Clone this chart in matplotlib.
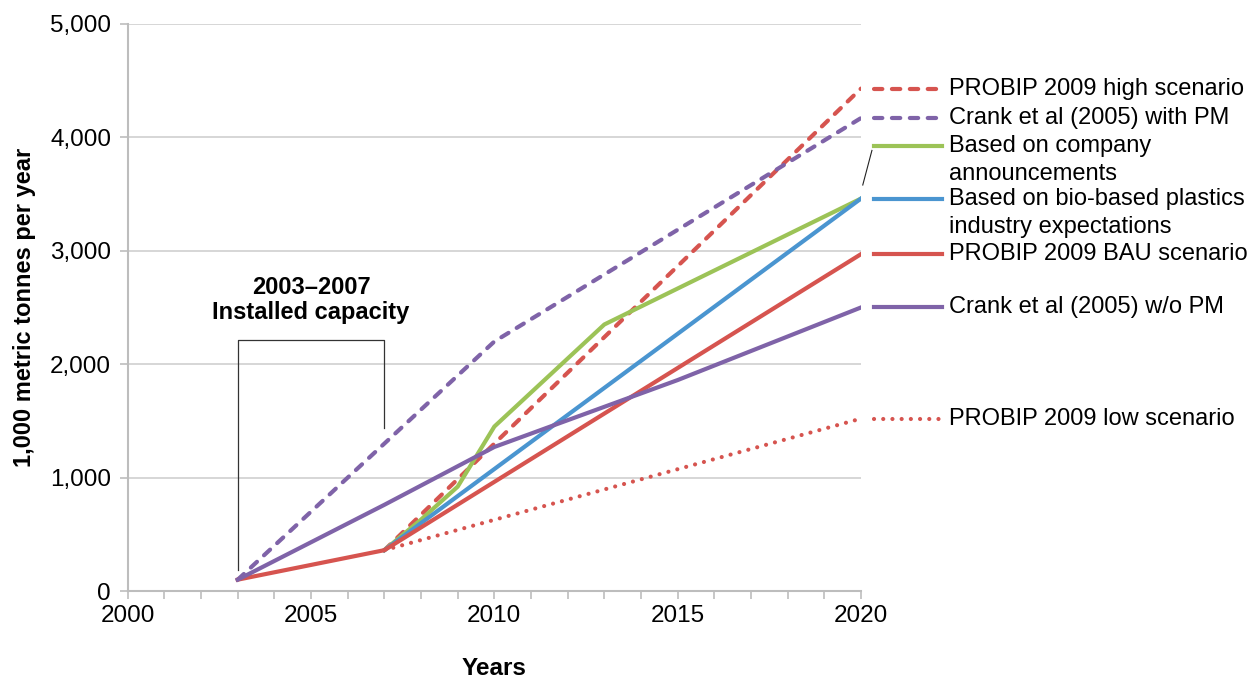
import matplotlib.pyplot as plt

plt.rcParams['font.family'] = ['Liberation Sans', 'DejaVu Sans']

# data (1,000 t per year)
high_years = [2003, 2007, 2020]
high_vals = [100, 360, 4430]
crank_pm_years = [2003, 2010, 2020]
crank_pm_vals = [100, 2200, 4170]
company_years = [2007, 2008, 2009, 2010, 2013, 2020]
company_vals = [360, 630, 920, 1450, 2350, 3460]
industry_years = [2007, 2020]
industry_vals = [360, 3460]
bau_years = [2003, 2007, 2020]
bau_vals = [100, 360, 2970]
crank_years = [2003, 2007, 2010, 2015, 2020]
crank_vals = [100, 760, 1270, 1860, 2500]
low_years = [2007, 2020]
low_vals = [360, 1520]

labels = ['PROBIP 2009 high scenario', 'Crank et al (2005) with PM',
          'Based on company\nannouncements',
          'Based on bio-based plastics\nindustry expectations',
          'PROBIP 2009 BAU scenario', 'Crank et al (2005) w/o PM',
          'PROBIP 2009 low scenario']

RED = '#d6544f'
PURPLE = '#7f63a8'
GREEN = '#9cc357'
BLUE = '#4a95d0'

fig = plt.figure(figsize=(12.55, 6.79), dpi=100)
ax = fig.add_axes([0.1018, 0.1296, 0.5842, 0.8351])

lw = 3
fs = 17
dash = dict(linestyle=(0, (2.0, 2.3)), dash_capstyle='round')
dot = dict(linestyle=(0, (0.01, 2.2)), dash_capstyle='round')

series = [
    (high_years, high_vals, RED, dash),
    (crank_pm_years, crank_pm_vals, PURPLE, dash),
    (company_years, company_vals, GREEN, {}),
    (industry_years, industry_vals, BLUE, {}),
    (bau_years, bau_vals, RED, {}),
    (crank_years, crank_vals, PURPLE, {}),
    (low_years, low_vals, RED, dot),
]

# the high scenario shares the solid 2003-2007 part with BAU
for i, (xs, ys, c, st) in enumerate(series):
    if i == 0:
        ax.plot(xs[1:], ys[1:], color=c, lw=lw, **st, zorder=3)
    else:
        ax.plot(xs, ys, color=c, lw=lw, **st, zorder=3)

# inline legend at the right end of each line
line_step = 247  # one text line in data units
for i, (xs, ys, c, st) in enumerate(series):
    ly = ys[-1]
    if i == 2:
        ly = 3925
        ax.plot([2020.05, 2020.3], [ys[-1] + 120, ly - 40], color='#222222',
                lw=0.8, clip_on=False)
    ax.plot([2020.35, 2022.2], [ly, ly], color=c, lw=lw, **st, clip_on=False)
    for k, part in enumerate(labels[i].split('\n')):
        ax.text(2022.4, ly - k * line_step, part, fontsize=fs, va='center',
                ha='left', clip_on=False)

# installed capacity bracket
ax.plot([2003, 2003, 2007, 2007], [185, 2215, 2215, 1440], color='#333333',
        lw=0.9, zorder=2)
ax.text(2005, 2566, '2003\u20132007\nInstalled capacity', ha='center',
        va='center', fontsize=fs, fontweight='bold', linespacing=1.1)

ax.set_xlim(2000, 2020)
ax.set_ylim(0, 5000)
ax.set_xticks(range(2000, 2021, 5))
ax.set_xticks(range(2000, 2021), minor=True)
ax.set_yticks(range(0, 5001, 1000))
ax.set_yticklabels(['{:,}'.format(v) for v in range(0, 5001, 1000)])
ax.grid(axis='y', color='#cfcfcf', lw=1.2)
ax.set_axisbelow(True)
for s in ['top', 'right']:
    ax.spines[s].set_visible(False)
for s in ['left', 'bottom']:
    ax.spines[s].set_color('#bdbdbd')
    ax.spines[s].set_linewidth(1.5)
ax.tick_params(axis='both', which='both', color='#bdbdbd', width=1.2,
               labelsize=17.5, direction='out')
ax.tick_params(axis='x', which='both', length=6, pad=4)
ax.tick_params(axis='y', length=6, pad=6)

ax.set_xlabel('Years', fontsize=17.5, fontweight='bold', labelpad=22)
ax.set_ylabel('1,000 metric tonnes per year', fontsize=17, fontweight='bold',
              labelpad=10)

fig.savefig('out.png', dpi=100)
